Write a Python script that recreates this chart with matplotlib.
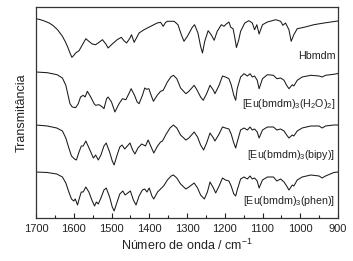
import matplotlib
matplotlib.use("Agg")
import matplotlib.pyplot as plt
from matplotlib.ticker import MultipleLocator

plt.rcParams['font.family'] = ['Liberation Sans', 'DejaVu Sans']
plt.rcParams['mathtext.fontset'] = 'custom'
plt.rcParams['mathtext.rm'] = 'Liberation Sans'
plt.rcParams['mathtext.it'] = 'Liberation Sans'

# ---- data (wavenumber in cm-1, transmittance in arbitrary stacked units) ----
hbmdm_wn = [1700, 1690, 1680, 1665, 1655, 1643, 1630, 1622, 1616, 1610, 1605, 1600, 1595, 1586,
            1577, 1568, 1560, 1551, 1542, 1533, 1524, 1515, 1509, 1498, 1485, 1474, 1467, 1460,
            1451, 1447, 1440, 1433, 1427, 1415, 1405, 1392, 1379, 1370, 1363, 1357, 1352, 1334,
            1324, 1315, 1308, 1299, 1286, 1280, 1271, 1264, 1259, 1253, 1244, 1236, 1228, 1220,
            1209, 1202, 1196, 1189, 1184, 1178, 1174, 1169, 1163, 1158, 1147, 1136, 1127, 1121,
            1115, 1109, 1100, 1087, 1065, 1052, 1046, 1039, 1030, 1024, 1017, 1008, 990, 964,
            937, 906, 900]
hbmdm_t = [199.3, 198.5, 197.3, 195, 192.5, 188.3, 181.7, 176, 171, 165, 160.7, 162.5, 165, 167.3,
           173.3, 179.3, 176.7, 174, 173.3, 175.7, 178.3, 174, 170, 174, 178.3, 180.7, 177.3, 175,
           180, 183.3, 175.7, 180.7, 185, 188, 190, 192.5, 195, 195.7, 191.7, 195.5, 196.7, 196.7,
           193.3, 183.3, 176.7, 181.7, 190.7, 193.3, 185, 171.7, 165, 176.7, 187.3, 183.3, 177.7, 186.7,
           193.3, 191.7, 194, 196, 190.7, 189.3, 181.7, 170.5, 178, 186.7, 195, 197.3, 195, 188.3,
           193.3, 184, 193.3, 196, 198.3, 196.7, 192.7, 195, 188.3, 176.7, 183.3, 189.3, 190.7, 193.3,
           195, 196.7, 197]

h2o_wn = [1700, 1670, 1644, 1630, 1621, 1615, 1610, 1604, 1595, 1588, 1582, 1575, 1570, 1564,
          1555, 1546, 1542, 1533, 1524, 1520, 1513, 1509, 1500, 1491, 1480, 1471, 1462, 1454,
          1448, 1439, 1432, 1427, 1418, 1412, 1407, 1401, 1395, 1389, 1379, 1370, 1363, 1352,
          1343, 1336, 1327, 1317, 1303, 1295, 1281, 1273, 1264, 1257, 1248, 1239, 1230, 1226,
          1215, 1206, 1198, 1189, 1183, 1176, 1171, 1167, 1158, 1149, 1140, 1133, 1127, 1121,
          1114, 1109, 1100, 1087, 1071, 1062, 1052, 1043, 1036, 1030, 1021, 1017, 1008, 995,
          972, 950, 942, 933, 911, 900]
h2o_t = [146, 145.3, 143.3, 140, 132.7, 122.7, 114.3, 111, 110.3, 114.3, 121, 122.7, 121, 126.7,
         121, 114.3, 112.7, 113.3, 111, 109.3, 119.3, 121, 116, 106, 114.3, 119.3, 118.3, 124.3,
         129.3, 122.7, 116, 114.3, 122.7, 130, 128.7, 129.3, 122.7, 116.7, 122.7, 126.7, 127.7, 136,
         141, 142.7, 139.3, 130, 124.3, 126.7, 132.7, 127.7, 121, 117.7, 124.3, 132.7, 127.7, 124.3,
         132.7, 142, 141, 139.3, 133.3, 122.7, 117.7, 129.3, 141, 144.3, 142, 144.3, 141, 142,
         137.7, 129.3, 139.3, 143.3, 142.7, 139.3, 140, 137.7, 132.7, 129.3, 133.3, 132, 137.7, 141,
         142.7, 142, 141, 142.7, 143.7, 144.5]

bipy_wn = [1700, 1670, 1645, 1630, 1621, 1613, 1606, 1598, 1593, 1586, 1580, 1575, 1568, 1562,
           1555, 1548, 1542, 1535, 1528, 1520, 1514, 1505, 1498, 1493, 1486, 1478, 1472, 1465,
           1458, 1451, 1444, 1438, 1430, 1420, 1415, 1410, 1403, 1395, 1388, 1378, 1370, 1365,
           1355, 1345, 1336, 1327, 1317, 1303, 1295, 1281, 1272, 1264, 1256, 1248, 1239, 1230,
           1226, 1215, 1206, 1198, 1189, 1183, 1176, 1171, 1167, 1158, 1149, 1140, 1133, 1127,
           1121, 1114, 1109, 1100, 1087, 1071, 1062, 1052, 1043, 1036, 1030, 1021, 1017, 1008,
           995, 972, 950, 942, 933, 911, 900]
bipy_t = [93, 92, 90, 87, 80, 70, 62, 59, 58, 66, 72, 72, 77, 72,
          66, 60, 63, 58, 63, 72, 75, 66, 57, 53, 62, 71, 73, 69,
          72, 75, 68, 64, 70, 74, 73, 72, 78, 71, 65, 72, 76, 77,
          84, 90, 93, 90, 83, 78, 80, 86, 81, 73, 68, 75, 85, 80,
          77, 84, 91, 90, 89, 84, 75, 70, 76, 88, 90, 88, 91, 88,
          89, 86, 80, 88, 91, 91, 88, 89, 87, 83, 80, 83, 82, 87,
          90, 92, 92, 90, 92, 93, 93]

phen_wn = [1700, 1670, 1645, 1630, 1621, 1613, 1606, 1600, 1596, 1590, 1585, 1580, 1575, 1568,
           1560, 1552, 1545, 1540, 1535, 1528, 1520, 1514, 1505, 1498, 1493, 1486, 1478, 1470,
           1464, 1457, 1450, 1442, 1435, 1427, 1418, 1412, 1406, 1400, 1393, 1388, 1378, 1370,
           1362, 1352, 1342, 1336, 1327, 1317, 1303, 1295, 1281, 1272, 1264, 1254, 1246, 1239,
           1230, 1224, 1215, 1206, 1198, 1189, 1183, 1176, 1171, 1167, 1158, 1149, 1140, 1133,
           1127, 1121, 1114, 1109, 1100, 1087, 1071, 1062, 1052, 1043, 1036, 1030, 1021, 1017,
           1008, 995, 972, 950, 942, 933, 911, 900]
phen_t = [46, 45.5, 44, 41, 35, 26, 19, 17, 19, 13, 20, 26, 26, 31,
          26, 18, 12, 16, 14, 20, 28, 30, 21, 11, 7, 15, 24, 27,
          23, 25, 27, 18, 13, 22, 28, 29, 26, 30, 22, 19, 26, 29,
          32, 38, 42, 43, 40, 34, 29, 31, 35, 30, 23, 19, 26, 36,
          30, 25, 32, 40, 38, 37, 32, 24, 22, 28, 39, 41, 39, 42,
          39, 40, 37, 30, 38, 41, 41, 37, 39, 36, 32, 28, 33, 32,
          38, 41, 43, 42, 40, 42, 45.5, 46]

series = [
    (hbmdm_wn, hbmdm_t, "Hbmdm", 162),
    (h2o_wn, h2o_t, r"[Eu(bmdm)$_3$(H$_2$O)$_2$]", 114),
    (bipy_wn, bipy_t, r"[Eu(bmdm)$_3$(bipy)]", 63),
    (phen_wn, phen_t, r"[Eu(bmdm)$_3$(phen)]", 17),
]
xticks = [1700, 1600, 1500, 1400, 1300, 1200, 1100, 1000, 900]

# ---- figure ----
fig = plt.figure(figsize=(3.53, 2.61), dpi=100)
ax = fig.add_axes([36/353, 43/261, 302/353, 211/261])

for wn, t, label, ylab in series:
    ax.plot(wn, t, color='#1a1a1a', lw=0.75)
    ax.text(907, ylab, label, ha='right', va='center', fontsize=7.7, color='#222222')

ax.set_xlim(1700, 900)
ax.set_ylim(0, 211)
ax.set_xticks(xticks)
ax.xaxis.set_minor_locator(MultipleLocator(50))
ax.tick_params(axis='x', which='both', direction='in', labelsize=8, pad=4, colors='#222222')
ax.tick_params(axis='x', which='major', length=3.5, width=0.8)
ax.tick_params(axis='x', which='minor', length=2, width=0.8)
ax.set_yticks([])
for s in ax.spines.values():
    s.set_linewidth(0.9)
    s.set_color('#333333')

ax.set_xlabel(r"Número de onda / cm$^{-1}$", fontsize=9, labelpad=3, color='#222222')
ax.set_ylabel("Transmitância", fontsize=9, labelpad=6, color='#222222')

fig.savefig("out.png", dpi=100)
